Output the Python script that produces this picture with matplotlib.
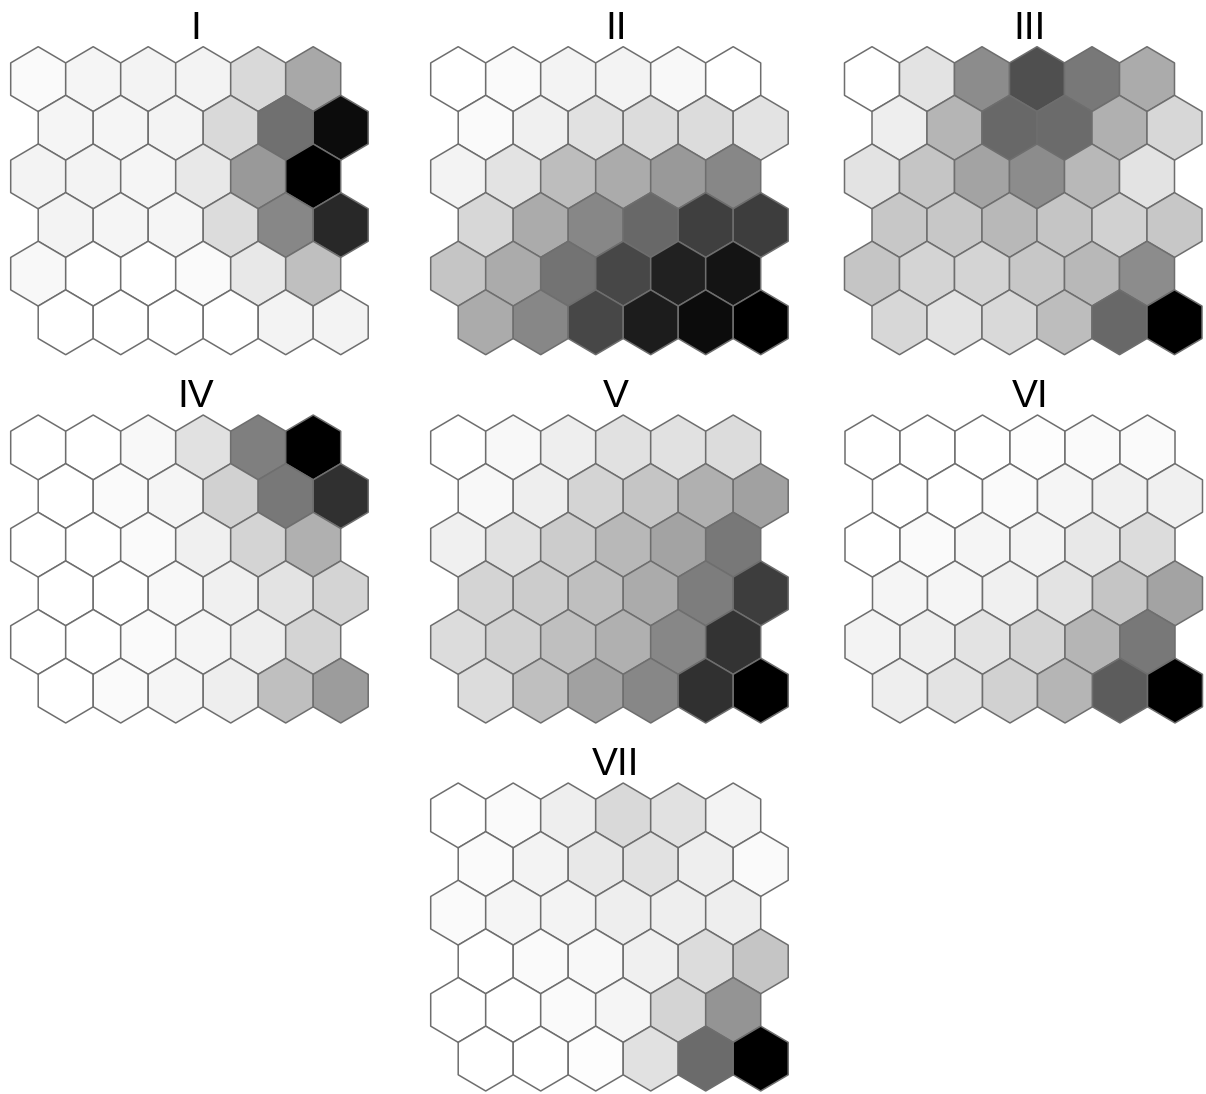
import numpy as np
import matplotlib.pyplot as plt
from matplotlib.collections import PolyCollection

# Component planes of a 6x6 hexagonal SOM (0 = low, 100 = high), rows top to bottom
plane_I = np.array([
    [2, 4, 5, 5, 15, 34],
    [4, 4, 5, 15, 56, 95],
    [5, 5, 4, 9, 40, 100],
    [5, 4, 4, 14, 47, 84],
    [3, 0, 0, 2, 9, 25],
    [0, 0, 0, 0, 5, 5],
])
plane_II = np.array([
    [0, 2, 5, 5, 3, 0],
    [2, 6, 12, 14, 14, 11],
    [5, 11, 26, 33, 40, 47],
    [16, 33, 47, 59, 75, 76],
    [23, 33, 55, 72, 87, 92],
    [33, 47, 72, 89, 95, 100],
])
plane_III = np.array([
    [0, 11, 45, 69, 53, 33],
    [7, 29, 59, 58, 31, 16],
    [11, 23, 36, 45, 28, 11],
    [22, 22, 28, 23, 18, 22],
    [23, 17, 17, 22, 28, 45],
    [16, 11, 15, 26, 59, 100],
])
plane_IV = np.array([
    [0, 0, 3, 12, 50, 100],
    [0, 2, 4, 18, 53, 81],
    [0, 0, 2, 6, 17, 31],
    [0, 0, 3, 6, 11, 17],
    [0, 0, 2, 4, 7, 17],
    [0, 2, 4, 7, 25, 39],
])
plane_V = np.array([
    [0, 3, 7, 12, 12, 14],
    [3, 7, 17, 23, 31, 37],
    [6, 12, 20, 28, 36, 53],
    [17, 20, 25, 33, 51, 76],
    [14, 18, 25, 31, 47, 80],
    [14, 25, 37, 47, 81, 100],
])
plane_VI = np.array([
    [0, 0, 0, 1, 2, 2],
    [0, 0, 2, 4, 6, 6],
    [0, 2, 4, 5, 9, 14],
    [4, 4, 6, 11, 23, 36],
    [5, 7, 11, 17, 29, 53],
    [7, 11, 18, 29, 64, 100],
])
plane_VII = np.array([
    [0, 2, 7, 15, 12, 5],
    [2, 5, 9, 12, 7, 2],
    [2, 4, 5, 7, 7, 7],
    [0, 2, 3, 6, 14, 23],
    [0, 0, 2, 4, 17, 42],
    [0, 0, 1, 12, 58, 100],
])

titles = ["I", "II", "III", "IV", "V", "VI", "VII"]
planes = [plane_I, plane_II, plane_III, plane_IV, plane_V, plane_VI, plane_VII]

# panel boxes in pixels: left, top
W, H = 1206, 1094
pw, ph = 357.5, 308
boxes = [(10.7, 46.7), (430.7, 46.7), (844.5, 46.7),
         (10.7, 415), (430.7, 415), (845, 415),
         (430.7, 783)]

R = 1 / np.sqrt(3)
dy = 1.5 * R
angles = np.deg2rad(90 + 60 * np.arange(6))


def hex_grid(n_rows, n_cols):
    verts = []
    for r in range(n_rows):
        for c in range(n_cols):
            cx = c + 0.5 * (r % 2)
            cy = -r * dy
            verts.append(np.c_[cx + R * np.cos(angles), cy + R * np.sin(angles)])
    return verts


fig = plt.figure(figsize=(W / 100, H / 100), dpi=100)

for title, plane, (left, top) in zip(titles, planes, boxes):
    n_rows, n_cols = plane.shape
    ax = fig.add_axes([left / W, 1 - (top + ph) / H, pw / W, ph / H])
    pc = PolyCollection(hex_grid(n_rows, n_cols), cmap="gray_r",
                        edgecolor="#6e6e6e", linewidth=1.1)
    pc.set_array(plane.ravel())
    pc.set_clim(0, 100)
    pc.set_clip_on(False)
    ax.add_collection(pc)
    ax.set_xlim(-0.5, n_cols)
    ax.set_ylim(-(n_rows - 1) * dy - R, R)
    ax.set_axis_off()
    fig.text((left + 185) / W, 1 - (top - 8) / H, title, ha="center",
             va="baseline", fontsize=28, family="Liberation Sans")

fig.savefig("out.png", dpi=100, facecolor="white")
